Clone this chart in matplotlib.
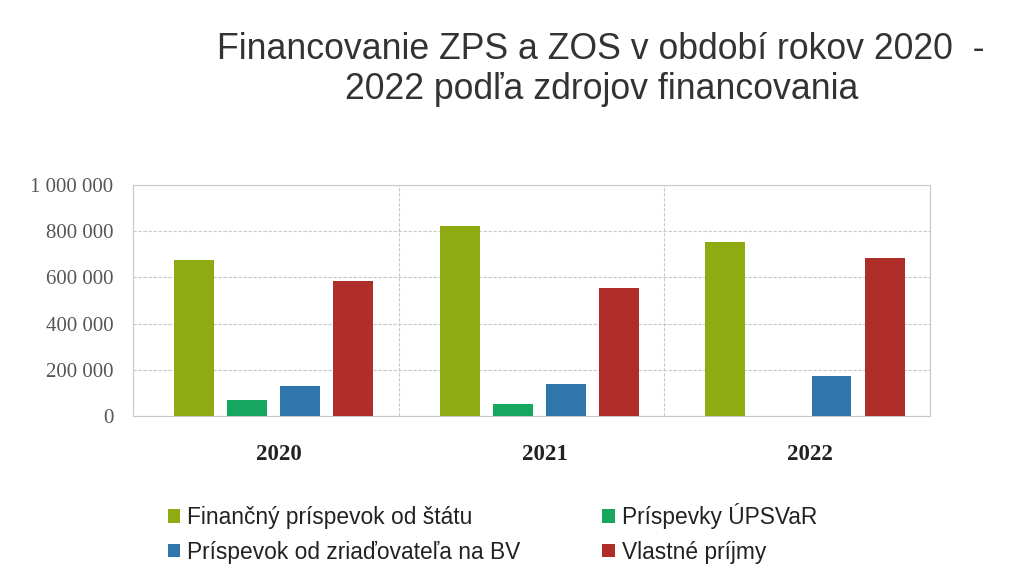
import numpy as np
import matplotlib.pyplot as plt

# data
years = ['2020', '2021', '2022']
series_names = ['Finančný príspevok od štátu', 'Príspevky ÚPSVaR',
                'Príspevok od zriaďovateľa na BV', 'Vlastné príjmy']
statny = [675000, 824000, 753000]
upsvar = [69000, 52000, 0]
zriadovatel = [127000, 137000, 172000]
vlastne = [586000, 554000, 683000]
colors = ['#8fab12', '#17a65e', '#2e76ab', '#b02e29']

fig = plt.figure(figsize=(10.14, 5.68), dpi=100)
ax = fig.add_axes([0.131, 0.268, 0.786, 0.406])

x = np.arange(len(years))
width = 0.15
step = 0.2
all_series = [statny, upsvar, zriadovatel, vlastne]
bars = []
for i, vals in enumerate(all_series):
    b = ax.bar(x + (i - 1.5) * step + 0.03, vals, width, color=colors[i],
               label=series_names[i], zorder=3)
    bars.append(b)

ax.set_xlim(-0.5, len(years) - 0.5)
ax.set_ylim(0, 1000000)
ax.set_yticks(np.arange(0, 1000001, 200000))
ax.set_yticklabels(['{:,}'.format(v).replace(',', ' ') for v in range(0, 1000001, 200000)],
                   fontfamily='Liberation Serif', fontsize=15, color='#555555')
ax.set_xticks(x + 0.05)
ax.set_xticklabels(years, fontfamily='Liberation Serif', fontsize=16.5,
                   fontweight='bold', color='#222222')
ax.set_xticks([0.5, 1.5], minor=True)
ax.tick_params(axis='both', which='both', length=0)
ax.tick_params(axis='y', pad=14)
ax.tick_params(axis='x', pad=20)
ax.grid(axis='y', color='#c8c8c8', linestyle=(0, (3, 1.5)), linewidth=0.8, zorder=0)
ax.grid(axis='x', which='minor', color='#c8c8c8', linestyle=(0, (3, 1.5)),
        linewidth=0.8, zorder=0)
for s in ax.spines.values():
    s.set_color('#c8c8c8')
    s.set_linewidth(0.8)

fig.text(0.593, 0.878, 'Financovanie ZPS a ZOS v období rokov 2020  -\n2022 podľa zdrojov financovania',
         ha='center', va='center', fontfamily='Liberation Sans', fontsize=25.7,
         color='#333333', linespacing=1.2)

order = [0, 2, 1, 3]
fig.legend([bars[i] for i in order], [series_names[i] for i in order],
           ncol=2, loc='upper left', bbox_to_anchor=(0.145, 0.15),
           frameon=False, prop={'family': 'Liberation Sans', 'size': 16.4},
           handlelength=0.55, handleheight=0.55, handletextpad=0.3,
           columnspacing=3.6, labelspacing=0.5, labelcolor='#222222')

fig.savefig('out.png', dpi=100)
